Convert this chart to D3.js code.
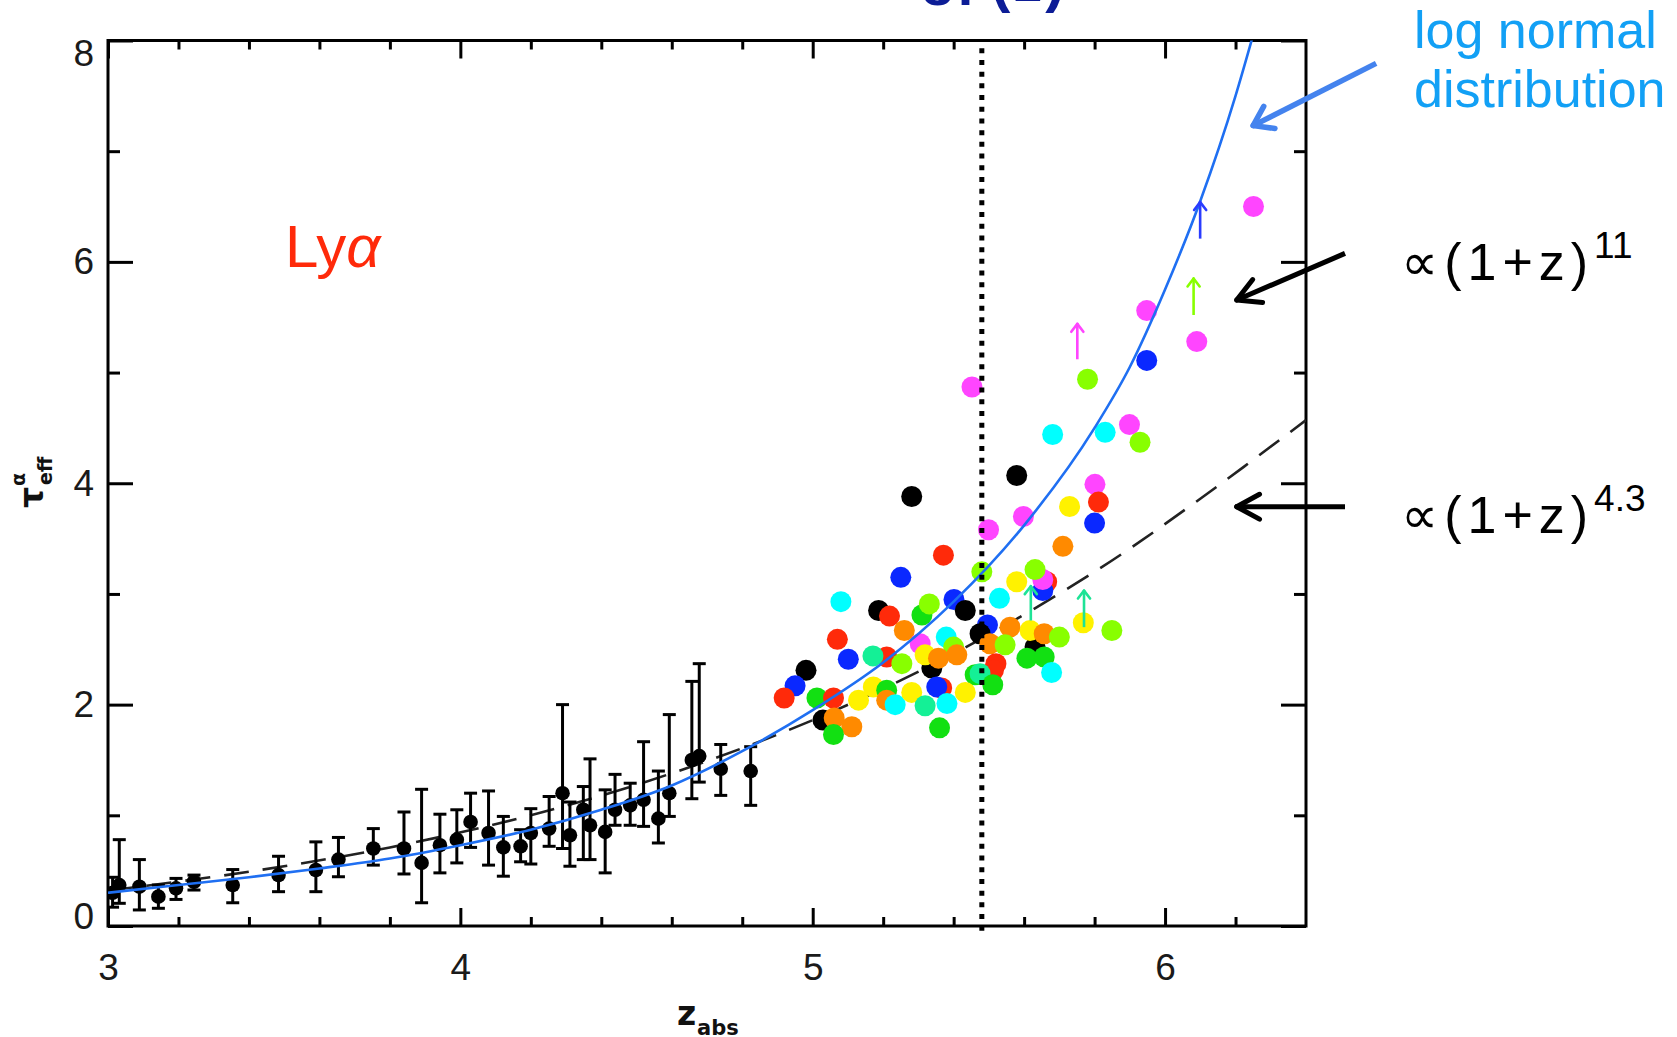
<!DOCTYPE html>
<html><head><meta charset="utf-8">
<script src="https://cdn.jsdelivr.net/npm/d3@7"></script>
<style>body{margin:0;background:#fff}svg{display:block}</style>
</head><body><svg id="c" width="1677" height="1037"></svg>
<script>
// ---------- data ----------
// low-z measurements with error bars
const errZ  = [3.013,3.032,3.089,3.143,3.193,3.244,3.354,3.484,3.590,3.654,3.753,3.840,3.890,3.942,3.990,4.029,4.080,4.122,4.171,4.200,4.252,4.290,4.311,4.349,4.368,4.411,4.439,4.482,4.520,4.562,4.593,4.657,4.678,4.739,4.824];
const errV  = [0.30,0.37,0.355,0.265,0.34,0.40,0.37,0.46,0.506,0.60,0.70,0.70,0.57,0.73,0.78,0.94,0.84,0.71,0.72,0.84,0.88,1.20,0.82,1.05,0.91,0.85,1.05,1.09,1.14,0.97,1.20,1.50,1.535,1.42,1.40];
const errLo = [0.17,0.205,0.145,0.16,0.24,0.325,0.21,0.31,0.31,0.445,0.55,0.47,0.21,0.48,0.57,0.71,0.55,0.45,0.58,0.56,0.72,0.70,0.54,0.60,0.60,0.48,0.91,0.91,0.90,0.75,0.99,1.15,1.30,1.18,1.09];
const errHi = [0.44,0.78,0.60,0.37,0.43,0.46,0.51,0.63,0.76,0.80,0.88,1.03,1.235,1.01,1.05,1.20,1.22,0.99,0.87,1.06,1.17,2.00,1.12,1.26,1.51,1.23,1.37,1.29,1.665,1.40,1.91,2.21,2.37,1.64,1.62];

// high-z quasar sightlines (colour = quasar)
const ptZ = [5.366,5.631,5.338,5.461,5.21,5.664,5.653,5.653,5.631,
 5.452,5.948,5.948,5.78,6.09,6.251,5.681,5.83,5.899,5.929,5.281,5.579,5.801,5.811,5.729,5.80,5.598,5.499,5.71,5.371,5.25,5.48,5.579,
 5.08,5.53,5.401,5.187,5.218,5.433,5.31,5.331,5.26,5.496,5.56,5.617,5.657,5.70,5.768,5.849,
 5.07,5.101,5.171,5.253,5.305,5.379,5.40,5.319,5.357,5.409,5.475,5.503,5.546,5.52,5.513,5.608,5.657,5.678,
 4.981,4.95,4.919,5.012,5.059,5.13,5.172,5.21,5.21,5.234,5.281,5.319,5.352,5.381,5.433,5.475,5.511,5.36,
 5.029,5.061,5.111,5.059];
const ptV = [2.15,2.52,2.33,2.27,2.43,3.11,3.03,3.13,3.22,
 4.87,5.56,5.11,4.94,5.28,6.50,4.44,4.46,4.53,4.37,3.88,4.07,3.99,3.83,3.79,3.64,3.70,3.58,3.43,3.35,3.15,3.20,3.11,
 2.93,2.96,2.95,2.85,2.80,2.85,2.81,2.91,2.67,2.72,2.70,2.67,2.64,2.61,2.74,2.67,
 2.59,2.41,2.44,2.37,2.55,2.61,2.52,2.45,2.42,2.45,2.64,2.55,2.54,2.37,2.31,2.42,2.43,2.29,
 2.31,2.17,2.06,2.06,2.06,2.04,2.16,2.13,2.04,2.00,2.11,1.99,2.16,2.01,2.11,2.28,2.18,1.79,
 1.86,1.88,1.80,1.73];
const ptC = ["r","k","k","g","r","r","b","m","l",
 "m","m","b","l","m","m","c","c","m","l","k","k","m","r","y","b","m","m","o","r","b","l","y",
 "c","c","b","k","r","k","g","l","o","b","o","y","o","l","y","l",
 "r","b","s","l","m","c","l","y","o","o","k","o","l","r","r","g","g","c",
 "k","b","r","g","r","y","y","g","o","c","y","s","b","c","y","s","g","g",
 "k","o","o","g"];

// lower limits (arrows)
const limZ  = [5.751,6.0996,6.081,5.619,5.770];
const limLo = [5.12,6.21,5.52,2.76,2.70];
const limHi = [5.44,6.54,5.85,3.07,3.03];
const limC  = ["m","b","l","s","s"];

// model curves
const logZ = [3.0,3.2,3.4,3.6,3.8,4.0,4.2,4.4,4.6,4.8,5.0,5.2,5.4,5.6,5.8,5.9,6.0,6.1,6.2,6.25];
const logV = [0.30,0.37,0.44,0.52,0.61,0.73,0.87,1.05,1.27,1.58,1.95,2.38,2.93,3.62,4.50,5.05,5.75,6.55,7.50,8.05];
const powZ = [3.0,3.4,3.8,4.2,4.6,5.0,5.4,5.8,6.1,6.4];
const powV = [0.32,0.49,0.71,1.0,1.38,1.86,2.46,3.2,3.86,4.57];

const zCut = 5.48;
const xMajor = [3,4,5,6];
const xMinor = [3.2,3.4,3.6,3.8,4.2,4.4,4.6,4.8,5.2,5.4,5.6,5.8,6.2];
const yMajor = [0,2,4,6,8];
const yMinor = [1,3,5,7];

// ---------- style ----------
const pal = {r:"#ff2a0a",b:"#0a28ff",k:"#000000",c:"#00ffff",g:"#12e012",l:"#88ff00",y:"#fff200",o:"#ff8a00",m:"#ff45ff",s:"#14f096"};
const limPal = {m:"#ff45ff",b:"#2a3cff",l:"#88ff00",s:"#1ee396"};
const FONT = "'Liberation Sans', Arial, sans-serif";

const svg = d3.select("#c");
const x = d3.scaleLinear().domain([3,6.4]).range([108,1306]);
const y = d3.scaleLinear().domain([0,8]).range([926,40.5]);

svg.append("defs").append("clipPath").attr("id","pc")
  .append("rect").attr("x",x(3)).attr("y",y(8)).attr("width",x(6.4)-x(3)).attr("height",y(0)-y(8));

// title fragment (cut off at top of the image, as in the original)
const tt = svg.append("text").attr("x",921).attr("y",5).attr("font-family",FONT)
  .attr("font-weight","bold").attr("fill","#0c1c96").attr("font-size",54);
tt.append("tspan").text("σ");
tt.append("tspan").text("F");
tt.append("tspan").attr("dy",-4).attr("font-size",58).attr("letter-spacing",3).text("(z)");

// ---------- axes ----------
function styleAxis(g){ g.select(".domain").remove(); g.selectAll("line").attr("stroke","#000").attr("stroke-width",3);
  g.attr("font-family",FONT).attr("font-size",37); g.selectAll("text").attr("fill","#1a1a1a"); }
svg.append("g").attr("transform",`translate(0,${y(0)})`).call(d3.axisBottom(x).tickValues(xMinor).tickSize(-9).tickFormat("")).call(styleAxis);
svg.append("g").attr("transform",`translate(0,${y(0)})`).call(d3.axisBottom(x).tickValues(xMajor).tickSize(-18).tickPadding(28).tickFormat(d3.format("d"))).call(styleAxis);
svg.append("g").attr("transform",`translate(0,${y(8)})`).call(d3.axisTop(x).tickValues(xMinor).tickSize(-9).tickFormat("")).call(styleAxis);
svg.append("g").attr("transform",`translate(0,${y(8)})`).call(d3.axisTop(x).tickValues(xMajor).tickSize(-18).tickFormat("")).call(styleAxis);
svg.append("g").attr("transform",`translate(${x(3)},0)`).call(d3.axisLeft(y).tickValues(yMinor).tickSize(-12).tickFormat("")).call(styleAxis);
const yl = svg.append("g").attr("transform",`translate(${x(3)},0)`).call(d3.axisLeft(y).tickValues(yMajor).tickSize(-25).tickPadding(14).tickFormat(d3.format("d"))).call(styleAxis);
yl.selectAll("text").attr("y",d=> d===0?-9:(d===8?13:0));
svg.append("g").attr("transform",`translate(${x(6.4)},0)`).call(d3.axisRight(y).tickValues(yMinor).tickSize(-12).tickFormat("")).call(styleAxis);
svg.append("g").attr("transform",`translate(${x(6.4)},0)`).call(d3.axisRight(y).tickValues(yMajor).tickSize(-25).tickFormat("")).call(styleAxis);
svg.append("rect").attr("x",x(3)).attr("y",y(8)).attr("width",x(6.4)-x(3)).attr("height",y(0)-y(8))
  .attr("fill","none").attr("stroke","#000").attr("stroke-width",3);

// axis titles
const yt = svg.append("g").attr("transform","translate(43,508) rotate(-90)").attr("font-family","'DejaVu Sans', sans-serif").attr("font-weight","bold").attr("fill","#111");
yt.append("text").attr("x",0).attr("y",0).attr("font-size",33).text("τ");
yt.append("text").attr("x",22).attr("y",-18).attr("font-size",19).text("α");
yt.append("text").attr("x",23).attr("y",9).attr("font-size",19).text("eff");
const xt = svg.append("g").attr("font-family","'DejaVu Sans', sans-serif").attr("font-weight","bold").attr("fill","#111");
xt.append("text").attr("x",677).attr("y",1025).attr("font-size",33).text("z");
xt.append("text").attr("x",697).attr("y",1035).attr("font-size",21).text("abs");

// ---------- plot contents ----------
const plot = svg.append("g").attr("clip-path","url(#pc)");

// dashed power law
plot.append("path").datum(d3.range(powZ.length))
  .attr("d",d3.line().x(i=>x(powZ[i])).y(i=>y(powV[i])).curve(d3.curveCatmullRom))
  .attr("fill","none").attr("stroke","#222").attr("stroke-width",2.6).attr("stroke-dasharray","25 14");

// error bars
const eb = plot.append("g").attr("stroke","#000").attr("stroke-width",3);
errZ.forEach((z,i)=>{
  eb.append("line").attr("x1",x(z)).attr("x2",x(z)).attr("y1",y(errLo[i])).attr("y2",y(errHi[i]));
  [errLo[i],errHi[i]].forEach(v=>eb.append("line").attr("x1",x(z)-6.5).attr("x2",x(z)+6.5).attr("y1",y(v)).attr("y2",y(v)));
});
plot.append("g").selectAll("circle").data(errZ).join("circle")
  .attr("cx",d=>x(d)).attr("cy",(d,i)=>y(errV[i])).attr("r",7.3).attr("fill","#000");

// coloured points
plot.append("g").selectAll("circle").data(ptZ).join("circle")
  .attr("cx",d=>x(d)).attr("cy",(d,i)=>y(ptV[i])).attr("r",10.5).attr("fill",(d,i)=>pal[ptC[i]]);

// dotted z cut line
svg.append("line").attr("x1",x(zCut)).attr("x2",x(zCut)).attr("y1",y(7.93)).attr("y2",y(0)+8)
  .attr("stroke","#000").attr("stroke-width",5).attr("stroke-dasharray","5 6.7");

// log-normal curve
plot.append("path").datum(d3.range(logZ.length))
  .attr("d",d3.line().x(i=>x(logZ[i])).y(i=>y(logV[i])).curve(d3.curveMonotoneX))
  .attr("fill","none").attr("stroke","#1f6ff2").attr("stroke-width",2.6);

// arrow helper (pixel space)
function arrow(g,x1,y1,x2,y2,len,ang,col,w){
  g.append("line").attr("x1",x1).attr("y1",y1).attr("x2",x2).attr("y2",y2).attr("stroke",col).attr("stroke-width",w).attr("stroke-linecap","butt");
  const a=Math.atan2(y1-y2,x1-x2);
  [ang,-ang].forEach(da=>g.append("line").attr("x1",x2).attr("y1",y2)
     .attr("x2",x2+len*Math.cos(a+da)).attr("y2",y2+len*Math.sin(a+da))
     .attr("stroke",col).attr("stroke-width",w).attr("stroke-linecap","round"));
}
// lower limits
const lg = svg.append("g");
limZ.forEach((z,i)=>arrow(lg,x(z),y(limLo[i]),x(z),y(limHi[i]),10,0.65,limPal[limC[i]],2.6));

// ---------- annotations ----------
const an = svg.append("g");
an.append("text").attr("x",285).attr("y",267).attr("font-family",FONT).attr("font-size",60).attr("fill","#ff2a0a")
  .call(t=>{t.append("tspan").text("Ly"); t.append("tspan").attr("font-style","italic").text("α");});

an.append("text").attr("x",1414).attr("y",48).attr("font-family",FONT).attr("font-size",52).attr("fill","#12a0f5").text("log normal");
an.append("text").attr("x",1414).attr("y",107).attr("font-family",FONT).attr("font-size",52).attr("fill","#12a0f5").text("distribution");
arrow(an,x(6.599),y(7.793),x(6.250),y(7.231),22,0.6,"#4483ee",5.5);

arrow(an,x(6.5107),y(6.077),x(6.2033),y(5.655),26,0.5,"#000",5);
arrow(an,x(6.5107),y(3.788),x(6.2033),y(3.788),26,0.5,"#000",5);

function law(yb,sup){
  const t=an.append("text").attr("x",1401).attr("y",yb).attr("font-family","'Liberation Sans', 'DejaVu Sans', sans-serif").attr("font-size",52).attr("fill","#000").attr("letter-spacing",6);
  t.append("tspan").text("∝(1+z)");
  t.append("tspan").attr("dy",-22).attr("font-size",37).attr("letter-spacing",0).text(sup);
}
law(280,"11");
law(533,"4.3");
</script></body></html>
